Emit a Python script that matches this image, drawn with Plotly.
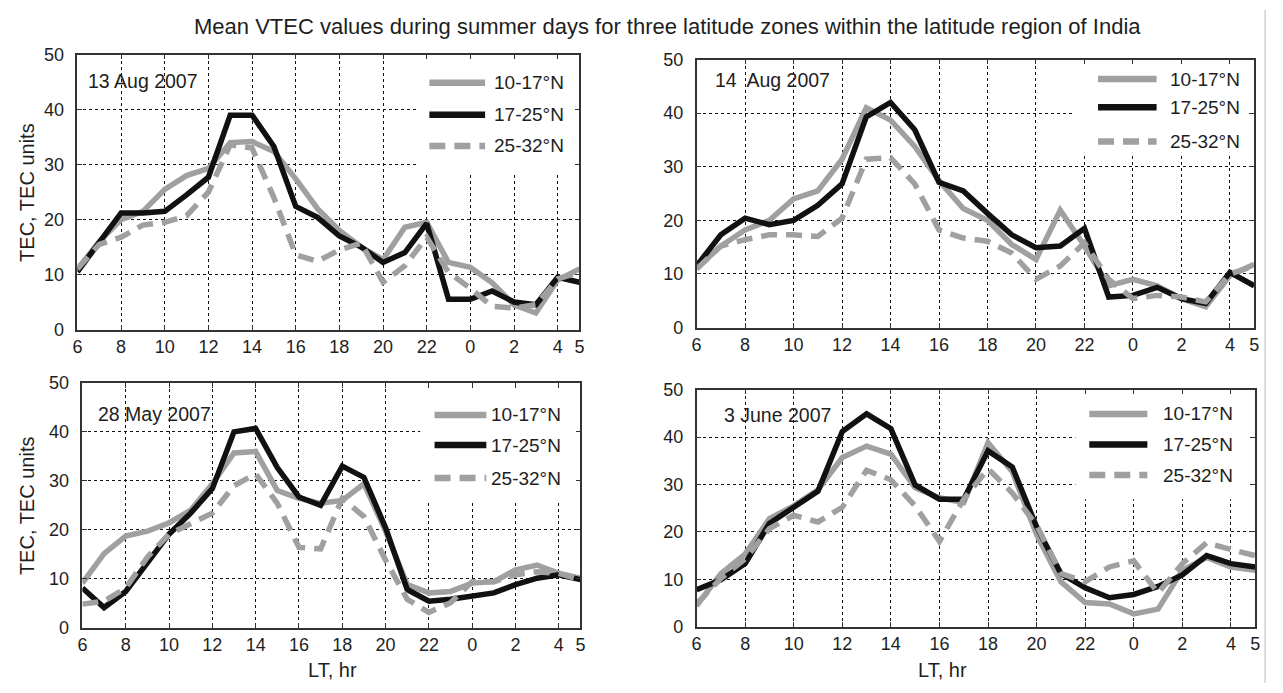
import plotly.graph_objects as go

# ---------------- data ----------------
hours = [6, 7, 8, 9, 10, 11, 12, 13, 14, 15, 16, 17, 18, 19, 20, 21, 22, 23, 0, 1, 2, 3, 4, 5]
tick_hours = [6, 8, 10, 12, 14, 16, 18, 20, 22, 0, 2, 4, 5]
tick_labels = [str(h) for h in tick_hours]
y_ticks = [0, 10, 20, 30, 40, 50]

series_names = ["10-17°N", "17-25°N", "25-32°N"]
panel_titles = ["13 Aug 2007", "14  Aug 2007", "28 May 2007", "3 June 2007"]

aug13_10_17 = [11, 16, 20, 21.5, 25.5, 28, 29.3, 34, 34.2, 32.4, 27.4, 22, 18, 15, 12.7, 18.6, 19.5, 12.2, 11.3, 8.5, 4.5, 3, 9, 11]
aug13_17_25 = [10.5, 16, 21.2, 21.2, 21.5, 24.5, 27.7, 39, 39, 33.3, 22.4, 20.4, 17, 15, 12.2, 14, 19.3, 5.5, 5.5, 7, 5, 4.5, 9.5, 8.6]
aug13_25_32 = [11, 15.5, 16.8, 19, 19.5, 20.7, 25, 33.6, 33, 24, 13.6, 12.4, 14.5, 15.7, 8.6, 11.6, 16.8, 10.4, 7.5, 4.2, 3.9, 4.5, 9.2, 10.4]

aug14_10_17 = [11, 15.2, 18.2, 20, 24, 25.5, 31.4, 41, 38.7, 33.8, 27.4, 22.2, 20, 15.5, 12.7, 21.9, 15.2, 7.8, 9, 7.8, 5.4, 3.9, 9.7, 11.8]
aug14_17_25 = [11.5, 17.3, 20.4, 19.2, 20, 22.8, 26.8, 39.3, 42, 36.9, 27.1, 25.5, 21.3, 17.3, 14.9, 15.2, 18.5, 5.7, 6, 7.5, 5.4, 4.5, 10.3, 7.8]
aug14_25_32 = [10.9, 15.2, 16.4, 17.3, 17.3, 17, 20.4, 31.4, 31.7, 26.8, 18.2, 16.7, 16.1, 13.9, 9, 11.5, 15.8, 9, 5.4, 6, 5.7, 4.8, 10, 11.5]

may28_10_17 = [9.1, 15.1, 18.7, 19.7, 21.4, 24, 29.4, 35.7, 36, 28, 26.4, 25.4, 26, 29.4, 19.7, 8.8, 7.1, 7.4, 9.1, 9.4, 11.8, 12.8, 11.1, 10.1]
may28_17_25 = [8.1, 4.1, 7.4, 13.4, 19.1, 23.4, 28.4, 40, 40.7, 32.7, 26.7, 25, 33, 30.7, 20.4, 7.8, 5.4, 5.8, 6.4, 7.1, 8.8, 10.1, 10.8, 9.8]
may28_25_32 = [4.8, 5.4, 8.1, 14.4, 19.1, 21.1, 23.4, 29, 31.4, 25.4, 16.4, 16.1, 26.4, 22.7, 13.8, 5.8, 3.1, 5.1, 9.4, 9.4, 10.8, 11.4, 11.1, 9.8]

jun3_10_17 = [4.4, 11.2, 15.3, 22.8, 25.5, 28.9, 35.7, 38.1, 36.4, 29.3, 27.2, 26.2, 38.8, 32.7, 19.4, 9.5, 5.1, 4.8, 2.7, 3.7, 11.9, 14.6, 12.6, 11.9]
jun3_17_25 = [7.8, 9.9, 13.3, 21.8, 25.2, 28.6, 41.2, 44.9, 41.8, 29.9, 26.9, 26.9, 37.1, 33.7, 21.1, 11.2, 8.2, 6.1, 6.8, 8.5, 10.9, 15, 13.3, 12.6]
jun3_25_32 = [4.8, 10.2, 14.3, 20.7, 23.5, 22.1, 25.2, 33, 31, 25.5, 18, 26.9, 33.3, 28.2, 21.4, 11.2, 9.5, 12.6, 13.9, 7.1, 13.3, 17.7, 16.3, 15]

panels = [
    [aug13_10_17, aug13_17_25, aug13_25_32],
    [aug14_10_17, aug14_17_25, aug14_25_32],
    [may28_10_17, may28_17_25, may28_25_32],
    [jun3_10_17, jun3_17_25, jun3_25_32],
]

# ---------------- styling / layout ----------------
FONT = "Liberation Sans, Arial, sans-serif"
TXT = "#1e1e1e"
GRAY = "#a0a0a0"
BLACK = "#111111"
styles = [
    dict(color=GRAY, width=5.5, dash="solid"),
    dict(color=BLACK, width=5.5, dash="solid"),
    dict(color=GRAY, width=5.5, dash="16px,9px"),
]

W, H = 1283, 693
# pixel boxes of each panel: (left, right, top, bottom)
boxes = [(73, 579, 46, 329), (697, 1259, 51, 327), (78, 580, 384, 636), (697, 1260, 391, 635)]
legend_box_bottom = [28.6, 32.6, 26, 26.9]
legend_box_left = 15.6
leg_line = [(0.701, 0.812), (0.72, 0.825), (0.707, 0.811), (0.703, 0.807)]
leg_text_x = [0.826, 0.846, 0.817, 0.832]
leg_rows = [(0.898, 0.781, 0.668), (0.927, 0.822, 0.694), (0.869, 0.746, 0.611), (0.898, 0.769, 0.64)]
date_pos = [(0.018, 0.905), (0.03, 0.925), (0.027, 0.875), (0.045, 0.895)]

xpos = list(range(len(hours)))
tick_pos = [hours.index(h) if h != 5 else len(hours) - 1 for h in tick_hours]

fig = go.Figure()
layout = dict(
    width=W, height=H,
    margin=dict(l=0, r=0, t=0, b=0),
    paper_bgcolor="white", plot_bgcolor="white",
    showlegend=False,
    font=dict(family=FONT, size=18, color=TXT),
)
shapes = []
annotations = []

for i, (data, box) in enumerate(zip(panels, boxes)):
    n = i + 1
    xa = "x" if n == 1 else f"x{n}"
    ya = "y" if n == 1 else f"y{n}"
    for vals, st, name in zip(data, styles, series_names):
        fig.add_trace(go.Scatter(
            x=xpos, y=vals, mode="lines", name=name, xaxis=xa, yaxis=ya,
            line=dict(color=st["color"], width=st["width"], dash=st["dash"]),
        ))
    l, r, t, b = box
    axis_common = dict(
        showline=True, linecolor="#333333", linewidth=1.5, mirror="ticks",
        ticks="inside", ticklen=5, tickcolor="#333333", tickwidth=1,
        showgrid=True, gridcolor="#111111", gridwidth=1.4, griddash="3px,3px",
        zeroline=False, tickfont=dict(family=FONT, size=18, color=TXT),
    )
    layout[f"xaxis{'' if n == 1 else n}"] = dict(
        axis_common, domain=[l / W, r / W], anchor=ya, range=[0, len(hours) - 1],
        tickmode="array", tickvals=tick_pos, ticktext=tick_labels,
    )
    layout[f"yaxis{'' if n == 1 else n}"] = dict(
        axis_common, domain=[1 - b / H, 1 - t / H], anchor=xa, range=[0, 50],
        tickmode="array", tickvals=y_ticks, ticktext=[str(v) for v in y_ticks],
        ticklabelstandoff=8,
    )
    # white legend background hiding the grid
    shapes.append(dict(type="rect", xref=xa, yref=ya, x0=legend_box_left, x1=len(hours) - 1,
                       y0=legend_box_bottom[i], y1=50, fillcolor="white",
                       line=dict(width=0), layer="between"))
    # legend samples and labels
    for k, (st, name) in enumerate(zip(styles, series_names)):
        yy = leg_rows[i][k]
        shapes.append(dict(type="line", xref=f"{xa} domain", yref=f"{ya} domain",
                           x0=leg_line[i][0], x1=leg_line[i][1], y0=yy, y1=yy,
                           line=dict(color=st["color"], width=6.5, dash=st["dash"])))
        annotations.append(dict(text=name, xref=f"{xa} domain", yref=f"{ya} domain",
                                x=leg_text_x[i], y=yy, xanchor="left", yanchor="middle",
                                showarrow=False, font=dict(family=FONT, size=19, color=TXT)))
    annotations.append(dict(text=panel_titles[i], xref=f"{xa} domain", yref=f"{ya} domain",
                            x=date_pos[i][0], y=date_pos[i][1], xanchor="left", yanchor="middle",
                            showarrow=False, font=dict(family=FONT, size=19.5, color=TXT)))

# axis titles
for yc in [(46 + 329) / 2, (384 + 636) / 2]:
    annotations.append(dict(text="TEC, TEC units", xref="paper", yref="paper", x=22 / W, y=1 - yc / H,
                            textangle=-90, showarrow=False, xanchor="center", yanchor="middle",
                            font=dict(family=FONT, size=20, color=TXT)))
for xc in [330, 945]:
    annotations.append(dict(text="LT, hr", xref="paper", yref="paper", x=xc / W, y=1 - 680 / H,
                            showarrow=False, xanchor="center", yanchor="middle",
                            font=dict(family=FONT, size=20, color=TXT)))
annotations.append(dict(
    text="Mean VTEC values during summer days for three latitude zones within the latitude region of India",
    xref="paper", yref="paper", x=668 / W, y=1 - 17 / H, showarrow=False,
    xanchor="center", yanchor="middle", font=dict(family=FONT, size=22, color=TXT)))

shapes.append(dict(type="line", xref="paper", yref="paper", x0=1270 / W, x1=1270 / W, y0=0, y1=1,
                   line=dict(color="#bbbbbb", width=1)))

layout["shapes"] = shapes
layout["annotations"] = annotations
fig.update_layout(**layout)
fig.write_html("out.html")
